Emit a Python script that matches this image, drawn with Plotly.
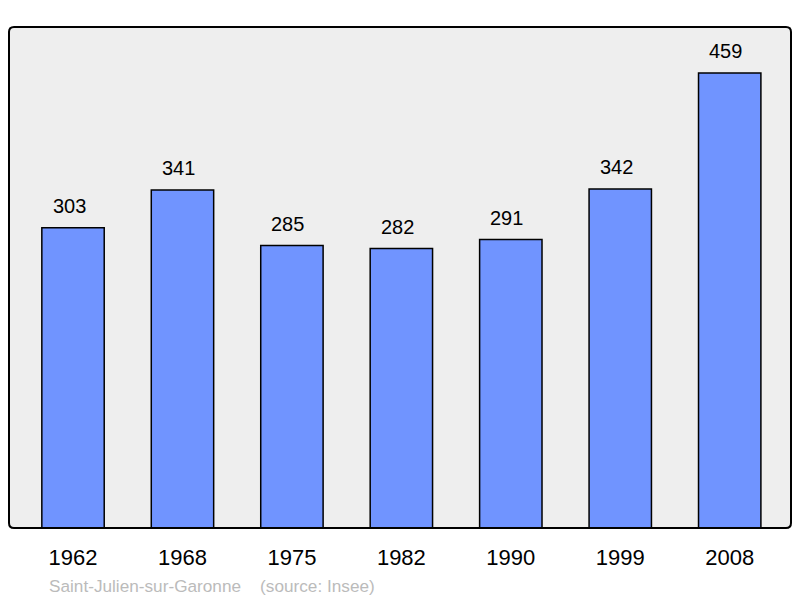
import plotly.graph_objects as go

# population figures per census year
years = ["1962", "1968", "1975", "1982", "1990", "1999", "2008"]
population = [303, 341, 285, 282, 291, 342, 459]
footer = "Saint-Julien-sur-Garonne    (source: Insee)"

fig = go.Figure()
fig.add_trace(go.Bar(
    x=years,
    y=population,
    width=0.57,
    marker=dict(color="#7094FF", line=dict(color="#000000", width=1.5)),
    hoverinfo="x+y",
))

# value labels above bars (x given as category index)
for i, val in enumerate(population):
    fig.add_annotation(x=i, y=val, text=str(val), showarrow=False,
                       yanchor="bottom", yshift=9, xshift=-4,
                       font=dict(size=20, color="#000000"))

# rounded frame around the plot area
rx, ry = 5 / 782, 5 / 501
frame = (f"M {rx},0 L {1-rx},0 Q 1,0 1,{ry} L 1,{1-ry} Q 1,1 {1-rx},1 "
         f"L {rx},1 Q 0,1 0,{1-ry} L 0,{ry} Q 0,0 {rx},0 Z")
fig.add_shape(type="path", path=frame, xref="paper", yref="paper",
              line=dict(color="#000000", width=2), layer="above")

fig.add_annotation(x=38 / 782, y=-58 / 501, xref="paper", yref="paper",
                   text=footer, showarrow=False,
                   xanchor="left", yanchor="middle",
                   font=dict(size=17.2, color="#BBBBBB"))

fig.update_layout(
    width=800, height=598,
    margin=dict(l=9, r=9, t=27, b=70),
    paper_bgcolor="#FFFFFF",
    plot_bgcolor="#EEEEEE",
    font=dict(family="Liberation Sans, Arial, sans-serif"),
    showlegend=False,
    xaxis=dict(type="category", range=[-0.585, 6.56], showgrid=False,
               zeroline=False, ticks="", ticklabelstandoff=14,
               tickfont=dict(size=22, color="#000000")),
    yaxis=dict(range=[0, 505.5], showgrid=False, zeroline=False,
               showticklabels=False),
)

# drop the default 8px body margin so the 800x598 figure fills the window
fig.write_html("out.html", config={"displayModeBar": False},
               post_script="document.body.style.margin='0';")
